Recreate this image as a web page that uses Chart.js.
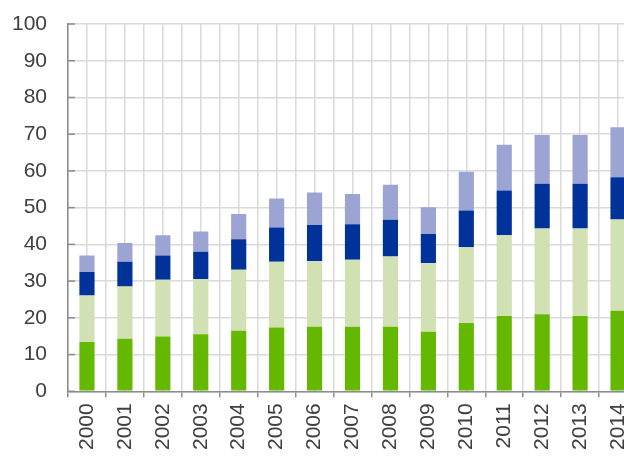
<!DOCTYPE html>
<html>
<head>
<meta charset="utf-8">
<script src="https://cdn.jsdelivr.net/npm/chart.js@4/dist/chart.umd.min.js"></script>
<style>
  html, body { margin: 0; padding: 0; background: #fff; overflow: hidden; }
  #wrap { position: absolute; left: 0; top: 0; width: 637px; height: 456px; }
</style>
</head>
<body>
<div id="wrap"><canvas id="c"></canvas></div>
<script>
const years = ["2000","2001","2002","2003","2004","2005","2006","2007","2008","2009","2010","2011","2012","2013","2014"];
const seriesGreen      = [13.4,14.3,14.9,15.5,16.5,17.4,17.6,17.6,17.6,16.2,18.6,20.5,21.0,20.5,21.9];
const seriesLightGreen = [12.7,14.2,15.5,15.1,16.6,17.9,17.9,18.2,19.1,18.7,20.6,22.0,23.3,23.8,24.9];
const seriesDarkBlue   = [6.4,6.8,6.6,7.4,8.3,9.3,9.8,9.7,10.0,7.9,10.0,12.2,12.2,12.2,11.5];
const seriesLightBlue  = [4.5,5.1,5.5,5.5,6.9,7.9,8.8,8.2,9.5,7.3,10.6,12.4,13.3,13.3,13.6];
const yTicks = [0,10,20,30,40,50,60,70,80,90,100];

const FONT = "'Liberation Sans', Arial, sans-serif";
const mk = (data, color) => ({
  data, backgroundColor: color, borderWidth: 0,
  barPercentage: 0.4, categoryPercentage: 1.0, xAxisID: 'x', yAxisID: 'y'
});
const noPad = (axis) => { axis.paddingLeft = 0; axis.paddingRight = 0; axis.paddingTop = 0; axis.paddingBottom = 0; };

// short inward tick marks on the y axis, positioned by the y scale
const innerTicks = {
  id: 'innerTicks',
  beforeDatasetsDraw(chart) {
    const y = chart.scales.y, ctx = chart.ctx, x0 = chart.chartArea.left;
    ctx.save();
    ctx.strokeStyle = '#8c8c8c';
    ctx.lineWidth = 1.5;
    yTicks.forEach(v => {
      const py = y.getPixelForValue(v);
      ctx.beginPath(); ctx.moveTo(x0, py); ctx.lineTo(x0 + 7, py); ctx.stroke();
    });
    ctx.restore();
  }
};

new Chart(document.getElementById('c'), {
  type: 'bar',
  data: {
    labels: years,
    datasets: [
      mk(seriesGreen, '#65b800'),
      mk(seriesLightGreen, '#d2e1b3'),
      mk(seriesDarkBlue, '#003299'),
      mk(seriesLightBlue, '#9ba4d3')
    ]
  },
  plugins: [innerTicks],
  options: {
    responsive: true,
    maintainAspectRatio: false,
    animation: false,
    layout: { autoPadding: false, padding: { left: 11, top: 24, right: 0, bottom: 0 } },
    plugins: { legend: { display: false }, tooltip: { enabled: false } },
    scales: {
      x: {
        stacked: true,
        offset: true,
        afterFit: noPad,
        grid: { offset: true, color: '#dadada', lineWidth: 1.5, drawTicks: true, tickLength: 6, tickColor: '#8c8c8c', tickWidth: 1.5 },
        border: { display: true, color: '#8c8c8c', width: 1.5 },
        ticks: { font: { family: FONT, size: 21 }, color: '#404040', minRotation: 90, maxRotation: 90, padding: 6, autoSkip: false }
      },
      x2: {
        type: 'category',
        labels: years,
        position: 'bottom',
        offset: true,
        afterFit: (axis) => { noPad(axis); axis.height = 0; },
        grid: { offset: false, color: '#dadada', lineWidth: 1.5, drawTicks: false },
        border: { display: false },
        ticks: { display: false }
      },
      y: {
        stacked: true,
        min: 0, max: 100,
        afterFit: (axis) => { noPad(axis); axis.width = 57; },
        afterBuildTicks: (axis) => { axis.ticks = yTicks.map(v => ({ value: v })); },
        grid: { color: '#dadada', lineWidth: 1.5, drawTicks: false },
        border: { display: true, color: '#8c8c8c', width: 1.5 },
        ticks: { font: { family: FONT, size: 21 }, color: '#404040', padding: 21 }
      }
    }
  }
});
</script>
</body>
</html>
